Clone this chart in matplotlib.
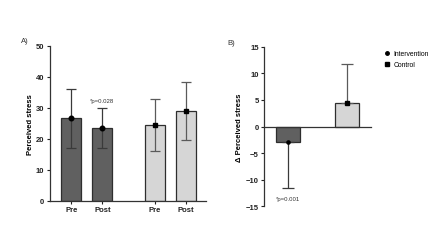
import matplotlib
matplotlib.use("Agg")
import matplotlib.pyplot as plt
from matplotlib.lines import Line2D

plt.rcParams['font.family'] = ['Liberation Sans', 'DejaVu Sans']

# Panel A data
a_labels = ["Pre", "Post", "Pre", "Post"]
a_means = [26.6, 23.4, 24.4, 28.9]
a_upper = [36.0, 29.9, 32.8, 38.4]
a_lower = [17.1, 17.1, 16.1, 19.6]
a_groups = ["Intervention", "Intervention", "Control", "Control"]
a_yticks = [0, 10, 20, 30, 40, 50]

# Panel B data
b_groups = ["Intervention", "Control"]
b_means = [-3.0, 4.45]
b_err = [8.6, 7.3]  # one-sided (away from zero)
b_yticks = [-15, -10, -5, 0, 5, 10, 15]

dark = "#606060"
light = "#d6d6d6"
edge = "#2e2e2e"
errc = {"Intervention": "#3a3a3a", "Control": "#5a5a5a"}
colors = {"Intervention": dark, "Control": light}
markers = {"Intervention": "o", "Control": "s"}

fig = plt.figure(figsize=(4.47, 2.51), dpi=100)

# ---- Panel A ----
axA = fig.add_axes([0.1119, 0.1964, 0.3484, 0.6176])
posA = [0, 1, 2.68, 3.68]
for x, m, u, l, g in zip(posA, a_means, a_upper, a_lower, a_groups):
    axA.bar(x, m, width=0.645, color=colors[g], edgecolor=edge, linewidth=0.9, zorder=2)
    axA.errorbar(x, m, yerr=[[m - l], [u - m]], fmt=markers[g], color="black",
                 ecolor=errc[g], elinewidth=0.9, capsize=3.6, capthick=0.9,
                 markersize=3.3, zorder=3)
axA.set_xlim(-0.69, 4.33)
axA.set_ylim(0, 50)
axA.set_yticks(a_yticks)
axA.set_xticks(posA)
axA.set_xticklabels(a_labels)
axA.set_ylabel("Perceived stress", fontsize=5.5, fontweight="bold", labelpad=1.5)
for s in ["top", "right"]:
    axA.spines[s].set_visible(False)
for s in ["left", "bottom"]:
    axA.spines[s].set_linewidth(0.9)
    axA.spines[s].set_color("#333333")
axA.tick_params(axis="both", labelsize=5.5, length=2.5, width=0.8, pad=1.5, colors="#222222")
for t in axA.get_xticklabels() + axA.get_yticklabels():
    t.set_fontweight("bold")
axA.text(1, a_upper[1] + 1.5, "*p=0.028", ha="center", va="bottom", fontsize=4.3, color="#333333")
fig.text(0.046, 0.828, "A)", fontsize=5.5, color="#333333")

# ---- Panel B ----
axB = fig.add_axes([0.5913, 0.174, 0.238, 0.636])
posB = [0, 1]
for x, m, e, g in zip(posB, b_means, b_err, b_groups):
    axB.bar(x, m, width=0.405, color=colors[g], edgecolor=edge, linewidth=0.9, zorder=2)
    yerr = [[e], [0]] if m < 0 else [[0], [e]]
    axB.errorbar(x, m, yerr=yerr, fmt=markers[g], color="black",
                 ecolor=errc[g], elinewidth=0.9, capsize=4.3, capthick=0.9,
                 markersize=2.3, zorder=3)
axB.set_xlim(-0.40, 1.395)
axB.set_ylim(-15, 15)
axB.set_yticks(b_yticks)
axB.set_xticks([])
axB.spines["bottom"].set_position(("data", 0))
for s in ["top", "right"]:
    axB.spines[s].set_visible(False)
for s in ["left", "bottom"]:
    axB.spines[s].set_linewidth(0.9)
    axB.spines[s].set_color("#333333")
axB.tick_params(axis="y", labelsize=5.5, length=2.5, width=0.8, pad=1.5, colors="#222222")
for t in axB.get_yticklabels():
    t.set_fontweight("bold")
axB.set_ylabel("Δ Perceived stress", fontsize=5.5, fontweight="bold", labelpad=2)
axB.text(0, -13.6, "*p=0.001", ha="center", va="center", fontsize=4.3, color="#333333")
fig.text(0.508, 0.82, "B)", fontsize=5.5, color="#333333")

handles = [Line2D([], [], marker=markers[g], color="black", linestyle="none", markersize=2.5)
           for g in b_groups]
fig.legend(handles, b_groups, loc="upper left", bbox_to_anchor=(0.848, 0.814), frameon=False,
           fontsize=4.9, handletextpad=0.45, labelspacing=0.55, handlelength=1.0, borderpad=0.2)

fig.savefig("out.png", dpi=100)
